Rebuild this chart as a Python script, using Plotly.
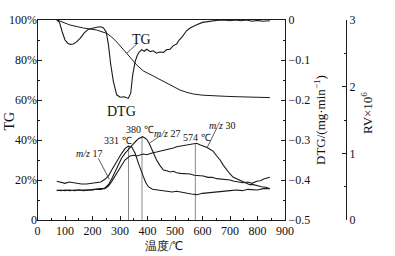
import plotly.graph_objects as go

# ---------------- data ----------------
tg_x = [72, 90, 118, 167, 215, 252, 270, 288, 312, 336, 361, 385, 421, 446, 470, 494, 518, 543, 567, 600, 639, 690, 736, 790, 845]
tg_y = [100, 99, 97.5, 96, 95, 93.3, 91.5, 89, 85, 81.5, 77.5, 74.5, 72, 70.2, 68.3, 66.5, 65, 63.8, 63, 62.4, 62, 61.8, 61.6, 61.4, 61.2]

dtg_x = [70, 80, 90, 100, 110, 120, 130, 140, 155, 170, 185, 200, 215, 230, 240, 250, 258, 266, 276, 288, 300, 315, 330, 339, 346, 355, 363, 370, 379, 388, 397, 410, 421, 432, 445, 458, 470, 482, 494, 506, 515, 524, 533, 542, 555, 567, 579, 600, 627, 650, 676, 700, 720, 740, 760, 780, 800, 820, 845]
dtg_y = [0, -0.006, -0.03, -0.05, -0.058, -0.061, -0.06, -0.056, -0.046, -0.032, -0.023, -0.02, -0.018, -0.017, -0.02, -0.03, -0.062, -0.11, -0.154, -0.187, -0.193, -0.192, -0.196, -0.183, -0.138, -0.104, -0.088, -0.08, -0.074, -0.078, -0.073, -0.079, -0.077, -0.083, -0.08, -0.081, -0.074, -0.073, -0.064, -0.06, -0.05, -0.044, -0.034, -0.027, -0.02, -0.015, -0.012, -0.006, -0.003, -0.001, 0.0, -0.002, 0.0, -0.002, 0.0, -0.003, -0.001, -0.003, -0.002]

ms17_x = [70, 85, 100, 115, 130, 143, 160, 179, 195, 215, 230, 245, 258, 270, 282, 294, 306, 318, 330, 342, 355, 367, 376, 385, 394, 403, 418, 433, 450, 470, 490, 506, 525, 545, 560, 579, 600, 620, 640, 660, 680, 700, 724, 745, 765, 785, 800, 820, 845]
ms17_y = [0.58, 0.56, 0.55, 0.57, 0.56, 0.56, 0.54, 0.54, 0.55, 0.56, 0.57, 0.61, 0.66, 0.75, 0.84, 0.92, 1.00, 1.07, 1.11, 1.10, 1.00, 0.85, 0.74, 0.65, 0.56, 0.50, 0.46, 0.45, 0.44, 0.43, 0.42, 0.43, 0.41, 0.40, 0.39, 0.38, 0.40, 0.41, 0.42, 0.42, 0.43, 0.44, 0.45, 0.44, 0.46, 0.45, 0.45, 0.47, 0.47]

ms27_x = [70, 85, 100, 118, 135, 150, 167, 185, 200, 215, 230, 245, 258, 270, 282, 294, 306, 318, 330, 342, 355, 367, 374, 382, 390, 397, 406, 415, 424, 433, 445, 458, 470, 482, 494, 506, 520, 535, 555, 570, 585, 603, 620, 635, 652, 670, 685, 700, 715, 730, 748, 765, 780, 797, 810, 825, 845]
ms27_y = [0.45, 0.44, 0.45, 0.44, 0.45, 0.45, 0.45, 0.44, 0.45, 0.46, 0.46, 0.48, 0.53, 0.62, 0.72, 0.83, 0.93, 1.00, 1.06, 1.12, 1.17, 1.22, 1.24, 1.25, 1.23, 1.21, 1.15, 1.07, 0.98, 0.90, 0.82, 0.75, 0.74, 0.72, 0.73, 0.71, 0.70, 0.70, 0.69, 0.67, 0.67, 0.66, 0.64, 0.64, 0.62, 0.61, 0.61, 0.60, 0.58, 0.57, 0.56, 0.57, 0.55, 0.58, 0.59, 0.62, 0.64]

ms30_x = [70, 85, 100, 118, 135, 150, 167, 185, 200, 215, 230, 245, 258, 270, 282, 294, 306, 318, 336, 350, 361, 373, 385, 397, 409, 420, 433, 445, 458, 470, 482, 494, 506, 518, 530, 542, 555, 567, 579, 590, 603, 615, 627, 639, 652, 664, 676, 688, 700, 712, 727, 742, 760, 772, 785, 800, 815, 830, 845]
ms30_y = [0.44, 0.45, 0.44, 0.45, 0.44, 0.45, 0.44, 0.45, 0.46, 0.46, 0.47, 0.47, 0.51, 0.58, 0.66, 0.75, 0.83, 0.90, 0.96, 0.97, 0.96, 0.98, 0.99, 0.98, 1.00, 1.01, 1.02, 1.03, 1.04, 1.06, 1.07, 1.08, 1.10, 1.11, 1.12, 1.13, 1.14, 1.14, 1.15, 1.13, 1.11, 1.09, 1.06, 1.03, 0.96, 0.90, 0.82, 0.75, 0.69, 0.64, 0.61, 0.58, 0.55, 0.53, 0.53, 0.51, 0.50, 0.49, 0.47]

peak_t = [331, 380, 574]
peak_rv = [1.11, 1.25, 1.15]

x_ticks = [0, 100, 200, 300, 400, 500, 600, 700, 800, 900]
tg_ticks = [0, 20, 40, 60, 80, 100]
tg_ticktext = ["0", "20%", "40%", "60%", "80%", "100%"]
dtg_ticks = [0, -0.1, -0.2, -0.3, -0.4, -0.5]
dtg_ticktext = ["0", "\u22120.1", "\u22120.2", "\u22120.3", "\u22120.4", "\u22120.5"]
rv_ticks = [0, 1, 2, 3]

# ---------------- figure ----------------
W, H = 395, 256
FONT = "Liberation Serif"
LC = "#1a1a1a"


def px(x):
    return x / W


def py(y):
    return 1 - y / H


fig = go.Figure()

# vertical peak lines
vx, vy = [], []
for t, r in zip(peak_t, peak_rv):
    vx += [t, t, None]
    vy += [0, r, None]
fig.add_trace(go.Scatter(x=vx, y=vy, yaxis="y3", mode="lines",
                         line=dict(color="#8a8a8a", width=1), showlegend=False))

fig.add_trace(go.Scatter(x=tg_x, y=tg_y, yaxis="y", mode="lines",
                         line=dict(color=LC, width=1), showlegend=False))
fig.add_trace(go.Scatter(x=dtg_x, y=dtg_y, yaxis="y2", mode="lines",
                         line=dict(color=LC, width=1.1), showlegend=False))
for xs, ys in [(ms17_x, ms17_y), (ms27_x, ms27_y), (ms30_x, ms30_y)]:
    fig.add_trace(go.Scatter(x=xs, y=ys, yaxis="y3", mode="lines",
                             line=dict(color=LC, width=1.1), showlegend=False))

xd = [px(37.5), px(285)]
yd = [py(220), py(20)]

tickfont = dict(family=FONT, size=12, color="#111")

fig.update_layout(
    width=W, height=H,
    margin=dict(l=0, r=0, t=0, b=0),
    paper_bgcolor="white", plot_bgcolor="white",
    font=dict(family=FONT, color="#111"),
    xaxis=dict(domain=xd, range=[0, 900], tickvals=x_ticks, ticks="inside", ticklen=4,
               minor=dict(ticks="inside", ticklen=2, dtick=50, tick0=0, tickcolor=LC),
               showline=True, linecolor=LC, linewidth=1, mirror=True,
               showgrid=False, zeroline=False, tickfont=tickfont, tickcolor=LC,
               automargin=False),
    yaxis=dict(domain=yd, range=[0, 100], tickvals=tg_ticks, ticktext=tg_ticktext,
               ticks="inside", ticklen=4, tickcolor=LC, ticklabelstandoff=-3,
               minor=dict(ticks="inside", ticklen=2, dtick=10, tick0=0, tickcolor=LC),
               showline=True, linecolor=LC, linewidth=1,
               showgrid=False, zeroline=False, tickfont=tickfont, automargin=False),
    yaxis2=dict(overlaying="y", side="right", anchor="x", range=[-0.5, 0],
                tickvals=dtg_ticks, ticktext=dtg_ticktext,
                ticks="inside", ticklen=4, tickcolor=LC,
                minor=dict(ticks="inside", ticklen=2, dtick=0.05, tick0=0, tickcolor=LC),
                showline=True, linecolor=LC, linewidth=1,
                showgrid=False, zeroline=False, tickfont=tickfont, automargin=False),
    yaxis3=dict(overlaying="y", side="right", anchor="free", position=px(346),
                range=[0, 3], tickvals=rv_ticks,
                ticks="inside", ticklen=4, tickcolor=LC,
                minor=dict(ticks="inside", ticklen=2, dtick=0.5, tick0=0, tickcolor=LC),
                showline=True, linecolor=LC, linewidth=1,
                showgrid=False, zeroline=False, tickfont=tickfont, automargin=False),
)

ann = []


def label(text, x, y, size=10, angle=0, xanchor="center"):
    ann.append(dict(text=text, x=px(x), y=py(y), xref="paper", yref="paper",
                    showarrow=False, textangle=angle, xanchor=xanchor, yanchor="middle",
                    font=dict(family=FONT, size=size, color="#111")))


# axis titles
label("TG", 8.5, 121, size=14, angle=-90)
label("DTG/(mg\u00b7min<sup>\u22121</sup>)", 320, 120, size=13, angle=-90)
label("RV\u00d710<sup>6</sup>", 367, 113, size=13, angle=-90)
label("\u6e29\u5ea6/\u2103", 164, 245, size=11.5)

# curve labels
label("TG", 141, 39, size=14)
label("DTG", 122, 111, size=14)
label("331 \u2103", 118, 140, size=10)
label("380 \u2103", 140, 129, size=10)
label("<i>m/z</i> 27", 167, 133, size=10)
label("574 \u2103", 197, 137, size=10)
label("<i>m/z</i> 30", 222, 125, size=10)
label("<i>m/z</i> 17", 89, 153, size=10)

fig.update_layout(annotations=ann)

# leader lines
shapes = []
for (x0, y0, x1, y1) in [(137.3, 43.5, 126.7, 53.3),
                         (160, 136, 150, 142.7),
                         (216.7, 128.3, 207.3, 147.3),
                         (98.3, 158.3, 109.3, 179.3)]:
    shapes.append(dict(type="line", xref="paper", yref="paper",
                       x0=px(x0), y0=py(y0), x1=px(x1), y1=py(y1),
                       line=dict(color="#333", width=0.8)))
fig.update_layout(shapes=shapes)

fig.write_html("out.html", config={"displayModeBar": False},
               post_script="document.body.style.margin='0';")
